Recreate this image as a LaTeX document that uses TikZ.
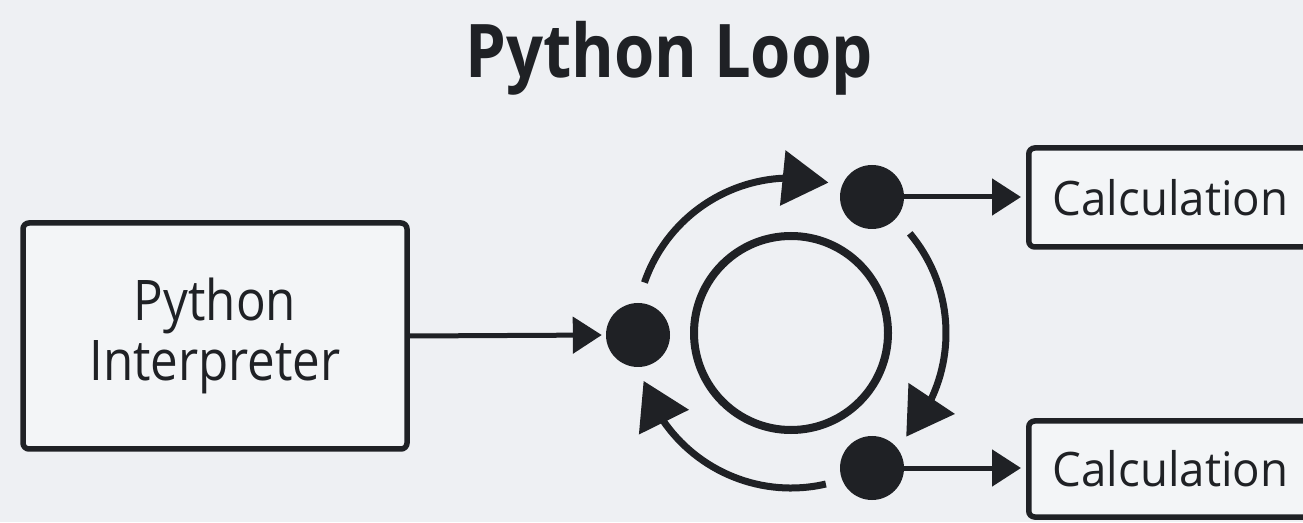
\documentclass[tikz,border=0pt]{standalone}
\usepackage{fontspec}
\setmainfont{Open Sans}
\newfontfamily\titlefont{Open Sans}[FakeStretch=0.88]
\newfontfamily\boxfont{Open Sans}[FakeStretch=0.88]
\newfontfamily\calcfont{Open Sans}[FakeStretch=0.96]
\usetikzlibrary{arrows.meta,bending,calc}

\definecolor{paper}{HTML}{EEF0F3}
\definecolor{boxfill}{HTML}{F3F5F7}
\definecolor{ink}{HTML}{1F2125}

\tikzset{
  framebox/.style={draw=ink, fill=boxfill, line width=5.5pt, rounded corners=6pt, inner sep=0pt},
  stagedot/.style={circle, fill=ink, minimum size=64pt, inner sep=0pt},
  feed/.style={draw=ink, line width=5pt, -{Triangle[length=29pt,width=36pt]}},
  loopflow/.style={draw=ink, line width=7pt, -{Triangle[length=46pt,width=54pt,flex]}},
}

\begin{document}
\begin{tikzpicture}[x=1pt,y=1pt]
  % canvas
  \fill[paper] (0,0) rectangle (1303,522);
  \useasboundingbox (0,0) rectangle (1303,522);
  \clip (0,0) rectangle (1303,522);

  % heading
  \node[anchor=base, text=ink, inner sep=0pt] (title) at (669,444)
    {\titlefont\bfseries\fontsize{74}{80}\selectfont Python Loop};

  % interpreter block
  \node[framebox, minimum width=384pt, minimum height=226pt, align=center,
        text=ink, font=\boxfont\fontsize{56}{60}\selectfont] (interp) at (215,186)
    {Python\\Interpreter};

  % loop centre and ring
  \coordinate (c) at (791,189);
  \draw[ink, line width=8pt] (c) circle[radius=97];

  % loop stages
  \node[stagedot] (dl) at (638,187) {};
  \node[stagedot] (dt) at (872,325) {};
  \node[stagedot] (db) at (872,54) {};

  % circulating arrows around the ring
  \draw[loopflow] ($(c)+(161:155)$) arc[start angle=161, end angle=76, radius=155];
  \draw[loopflow] ($(c)+(40:155)$) arc[start angle=40, end angle=-42, radius=155];
  \draw[loopflow] ($(c)+(-77:155)$) arc[start angle=-77, end angle=-162, radius=155];

  % calculation blocks (run off the right edge)
  \node[framebox, anchor=west, minimum height=99pt, text width=350pt,
        inner xsep=24pt, align=left, text=ink,
        font=\calcfont\fontsize{47.5}{52}\selectfont] (calc1) at (1026,324.5) {Calculation};
  \node[framebox, anchor=west, minimum height=96pt, text width=350pt,
        inner xsep=24pt, align=left, text=ink,
        font=\calcfont\fontsize{47.5}{52}\selectfont] (calc2) at (1026,53) {Calculation};

  % feed arrows
  \draw[feed, shorten >=4pt] (interp.east) -- (dl.west);
  \draw[feed, shorten >=5pt] (dt.east) -- (dt.east -| calc1.west);
  \draw[feed, shorten >=5pt] (db.east) -- (db.east -| calc2.west);
\end{tikzpicture}
\end{document}
